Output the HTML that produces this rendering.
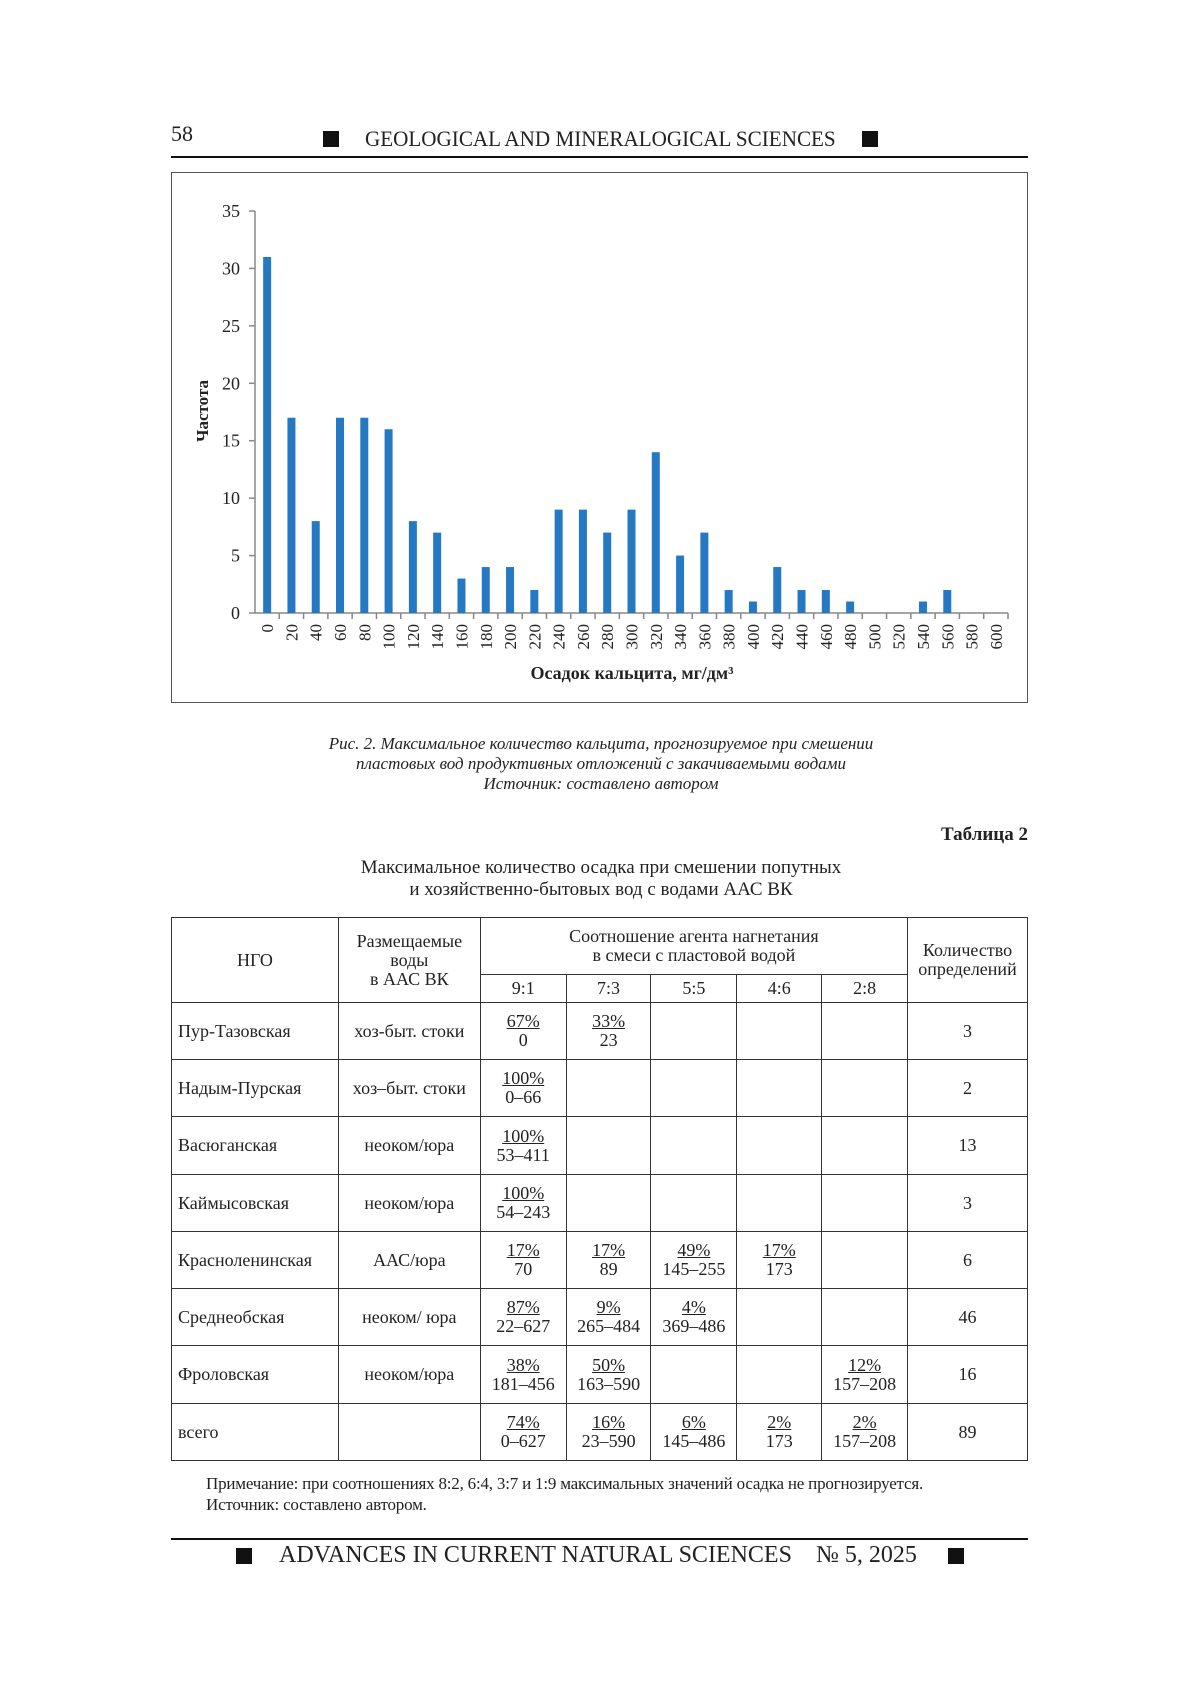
<!DOCTYPE html>
<html><head><meta charset="utf-8"><style>
body{margin:0;background:#fff;}
#p{position:relative;width:1200px;height:1697px;font-family:"Liberation Serif",serif;color:#222;overflow:hidden}
.a{position:absolute;white-space:nowrap}
.sq{position:absolute;width:16px;height:16px;background:#111}
table{position:absolute;left:171px;top:917px;width:857px;border-collapse:collapse;font-size:18px;}
td{border:1.5px solid #333;text-align:center;padding:0;line-height:19px}
td.l{text-align:left;padding-left:6px}
u{text-decoration:underline}
</style></head><body><div id="p">
<div class="a" style="left:171px;top:121px;font-size:22px">58</div>
<div class="sq" style="left:323px;top:131px"></div>
<div class="a" style="left:365px;top:126px;font-size:22px;transform:scaleX(0.96);transform-origin:left">GEOLOGICAL AND MINERALOGICAL SCIENCES</div>
<div class="sq" style="left:862px;top:131px"></div>
<div class="a" style="left:171px;top:156px;width:857px;height:2px;background:#111"></div>
<div class="a" style="left:171px;top:172px;width:855px;height:529px;border:1.5px solid #555"></div>
<svg class="a" style="left:0;top:0" width="1200" height="720" font-family="Liberation Serif" font-size="18" fill="#222">
<g stroke="#888" stroke-width="1.5">
<line x1="255" y1="211" x2="255" y2="613"/><line x1="255" y1="613" x2="1008" y2="613"/>
</g>
<g id="bars"></g>
<text transform="translate(208,411) rotate(-90)" text-anchor="middle" font-weight="bold" font-size="17">Частота</text>
<text x="632" y="679" text-anchor="middle" font-weight="bold" font-size="18">Осадок кальцита, мг/дм³</text>
<g id="ax"></g>
</svg>
<div class="a" style="left:0;width:1202px;text-align:center;top:734px;font-size:17px;font-style:italic;line-height:20px">Рис. 2. Максимальное количество кальцита, прогнозируемое при смешении<br>пластовых вод продуктивных отложений с закачиваемыми водами<br>Источник: составлено автором</div>
<div class="a" style="left:890px;width:138px;text-align:right;top:824px;font-size:19px;font-weight:bold">Таблица 2</div>
<div class="a" style="left:0;width:1202px;text-align:center;top:857px;font-size:19px;line-height:22px">Максимальное количество осадка при смешении попутных<br>и хозяйственно-бытовых вод с водами ААС ВК</div>
<table>
<colgroup><col style="width:167px"><col style="width:142px"><col style="width:86px"><col style="width:85px"><col style="width:86px"><col style="width:85px"><col style="width:86px"><col style="width:120px"></colgroup>
<tr style="height:57px"><td rowspan="2">НГО</td><td rowspan="2">Размещаемые<br>воды<br>в ААС ВК</td><td colspan="5">Соотношение агента нагнетания<br>в смеси с пластовой водой</td><td rowspan="2">Количество<br>определений</td></tr>
<tr style="height:28px"><td>9:1</td><td>7:3</td><td>5:5</td><td>4:6</td><td>2:8</td></tr>
<tr style="height:57px"><td class="l">Пур-Тазовская</td><td>хоз-быт. стоки</td><td><u>67%</u><br>0</td><td><u>33%</u><br>23</td><td></td><td></td><td></td><td>3</td></tr>
<tr style="height:57px"><td class="l">Надым-Пурская</td><td>хоз–быт. стоки</td><td><u>100%</u><br>0–66</td><td></td><td></td><td></td><td></td><td>2</td></tr>
<tr style="height:58px"><td class="l">Васюганская</td><td>неоком/юра</td><td><u>100%</u><br>53–411</td><td></td><td></td><td></td><td></td><td>13</td></tr>
<tr style="height:57px"><td class="l">Каймысовская</td><td>неоком/юра</td><td><u>100%</u><br>54–243</td><td></td><td></td><td></td><td></td><td>3</td></tr>
<tr style="height:57px"><td class="l">Красноленинская</td><td>ААС/юра</td><td><u>17%</u><br>70</td><td><u>17%</u><br>89</td><td><u>49%</u><br>145–255</td><td><u>17%</u><br>173</td><td></td><td>6</td></tr>
<tr style="height:57px"><td class="l">Среднеобская</td><td>неоком/ юра</td><td><u>87%</u><br>22–627</td><td><u>9%</u><br>265–484</td><td><u>4%</u><br>369–486</td><td></td><td></td><td>46</td></tr>
<tr style="height:58px"><td class="l">Фроловская</td><td>неоком/юра</td><td><u>38%</u><br>181–456</td><td><u>50%</u><br>163–590</td><td></td><td></td><td><u>12%</u><br>157–208</td><td>16</td></tr>
<tr style="height:57px"><td class="l">всего</td><td></td><td><u>74%</u><br>0–627</td><td><u>16%</u><br>23–590</td><td><u>6%</u><br>145–486</td><td><u>2%</u><br>173</td><td><u>2%</u><br>157–208</td><td>89</td></tr>
</table>
<div class="a" style="left:206px;top:1473px;font-size:17px;line-height:21px;letter-spacing:-0.2px">Примечание: при соотношениях 8:2, 6:4, 3:7 и 1:9 максимальных значений осадка не прогнозируется.<br>Источник: составлено автором.</div>
<div class="a" style="left:171px;top:1538px;width:857px;height:2px;background:#111"></div>
<div class="sq" style="left:236px;top:1548px"></div>
<div class="a" style="left:279px;top:1542px;font-size:24px">ADVANCES IN CURRENT NATURAL SCIENCES&nbsp;&nbsp;&nbsp;&nbsp;№ 5, 2025</div>
<div class="sq" style="left:948px;top:1548px"></div>
</div>
<script>
var d=[31,17,8,17,17,16,8,7,3,4,4,2,9,9,7,9,14,5,7,2,1,4,2,2,1,0,0,1,2,0,0];
var ns="http://www.w3.org/2000/svg",b=document.getElementById('bars'),ax=document.getElementById('ax');
function el(t,a,p,tx){var e=document.createElementNS(ns,t);for(var k in a)e.setAttribute(k,a[k]);if(tx!=null)e.textContent=tx;p.appendChild(e);return e;}
var w=753/31,u=402/35;
d.forEach(function(v,i){var cx=255+w*(i+0.5);
if(v>0)el('rect',{x:cx-4,y:613-v*u,width:8,height:v*u,fill:'#2479c2'},b);
el('line',{x1:255+w*(i+1),y1:613,x2:255+w*(i+1),y2:619,stroke:'#888','stroke-width':1.5},ax);
el('text',{transform:'translate('+(cx+6)+',624) rotate(-90)','text-anchor':'end','font-size':17},ax,String(i*20));});
for(var k=0;k<=7;k++){var y=613-k*5*u;
el('line',{x1:249,y1:y,x2:255,y2:y,stroke:'#888','stroke-width':1.5},ax);
el('text',{x:240,y:y+6,'text-anchor':'end','font-size':18},ax,String(k*5));}
</script>
</body></html>
